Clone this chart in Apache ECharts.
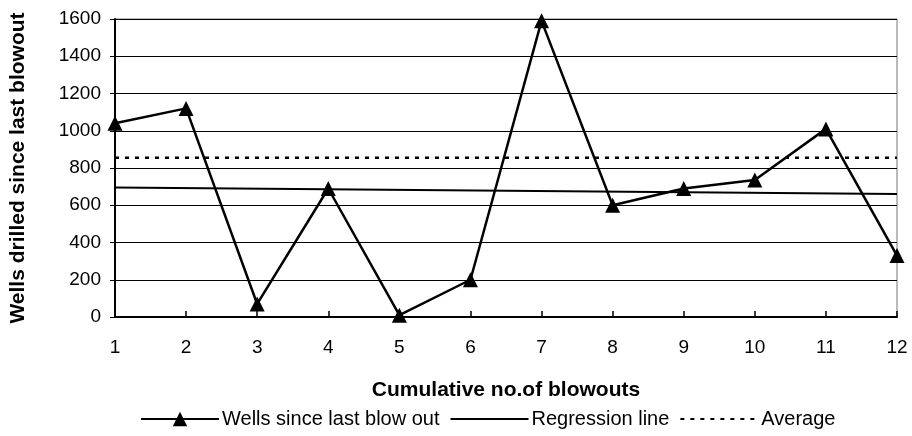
<!DOCTYPE html>
<html><head><meta charset="utf-8">
<script src="https://cdn.jsdelivr.net/npm/echarts@6/dist/echarts.min.js"></script>
<style>html,body{margin:0;padding:0;background:#fff}#c{width:912px;height:436px}</style>
</head><body><div id="c"></div>
<script>
const categories = [1,2,3,4,5,6,7,8,9,10,11,12];
const wells = [1040,1120,70,690,10,200,1590,600,690,735,1010,330];
const regressionX = [1,12];
const regressionY = [695,660];
const averageValue = 855;
const yTicks = [0,200,400,600,800,1000,1200,1400,1600];

const chart = echarts.init(document.getElementById('c'));
const font = 'Liberation Sans, Arial, sans-serif';
const hiddenSymbol = {color:'rgba(0,0,0,0)',borderColor:'rgba(0,0,0,0)',borderWidth:0,opacity:0};
chart.setOption({
  animation:false,
  grid:{left:110,right:15,top:19,bottom:119,show:true,borderColor:'#777',borderWidth:1},
  xAxis:{type:'value',min:categories[0],max:categories[categories.length-1],interval:1,
    name:'Cumulative no.of blowouts',nameLocation:'middle',nameGap:63,
    nameTextStyle:{fontFamily:font,fontWeight:'bold',fontSize:21,color:'#000'},
    axisLine:{lineStyle:{color:'#000',width:2}},
    axisTick:{inside:true,length:6,lineStyle:{color:'#000',width:1.5}},
    axisLabel:{fontFamily:font,fontSize:19,color:'#000',margin:21},
    splitLine:{show:false}},
  yAxis:{type:'value',min:yTicks[0],max:yTicks[yTicks.length-1],interval:200,
    name:'Wells drilled since last blowout',nameLocation:'middle',nameGap:86,
    nameTextStyle:{fontFamily:font,fontWeight:'bold',fontSize:21,color:'#000'},
    axisLine:{show:true,lineStyle:{color:'#000',width:2}},
    axisTick:{show:true,length:5,lineStyle:{color:'#000'}},
    axisLabel:{fontFamily:font,fontSize:19,color:'#000',margin:14,formatter:v=>String(v)},
    splitLine:{lineStyle:{color:'#000',width:1}}},
  legend:{left:135,top:404,itemGap:10,itemWidth:78,itemHeight:18,
    textStyle:{fontFamily:font,fontSize:20,color:'#000',padding:[0,0,0,-2]},
    data:[{name:'Wells since last blow out'},
          {name:'Regression line',itemStyle:hiddenSymbol},
          {name:'Average',itemStyle:hiddenSymbol}]},
  series:[
    {name:'Wells since last blow out',type:'line',
      data:categories.map((c,i)=>[c,wells[i]]),
      symbol:'triangle',symbolSize:15,
      lineStyle:{color:'#000',width:2.5},itemStyle:{color:'#000'}},
    {name:'Regression line',type:'line',
      data:regressionX.map((x,i)=>[x,regressionY[i]]),
      symbol:'none',lineStyle:{color:'#000',width:2},itemStyle:{color:'#000'}},
    {name:'Average',type:'line',
      data:[[categories[0],averageValue],[categories[categories.length-1],averageValue]],
      symbol:'none',lineStyle:{color:'#000',width:2.5,type:[4,6]},itemStyle:{color:'#000'}}
  ]
});
</script></body></html>
